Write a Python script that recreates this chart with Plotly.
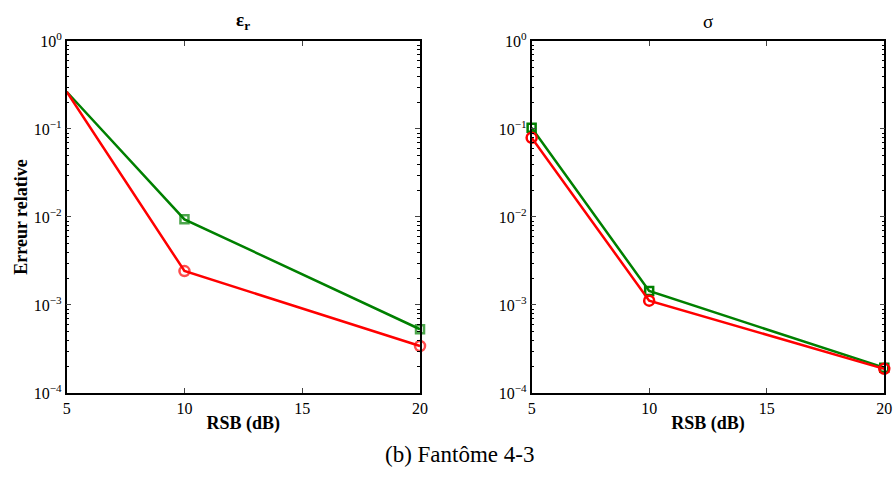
import plotly.graph_objects as go

# Données
rsb = [5, 10, 20]

eps_vert = [0.265, 0.0094, 0.00053]
eps_rouge = [0.265, 0.00243, 0.000342]

sig_vert = [0.1035, 0.00144, 0.000194]
sig_rouge = [0.0796, 0.00112, 0.000188]

ytick_vals = [1e-4, 1e-3, 1e-2, 1e-1, 1]
ytick_text = ["10<sup>−4</sup>", "10<sup>−3</sup>", "10<sup>−2</sup>",
              "10<sup>−1</sup>", "10<sup>0</sup>"]

VERT = "rgb(0,128,0)"
ROUGE = "rgb(255,0,0)"
SERIF = "Liberation Serif"

fig = go.Figure()

# Panneau gauche : epsilon_r (pas de marqueur au premier point)
fig.add_trace(go.Scatter(x=rsb, y=eps_vert, mode="lines+markers",
                         line=dict(color=VERT, width=2.5),
                         marker=dict(symbol="square-open", size=[0, 8, 8],
                                     color=VERT, line=dict(width=2.5)),
                         xaxis="x", yaxis="y", showlegend=False, cliponaxis=False))
fig.add_trace(go.Scatter(x=rsb, y=eps_rouge, mode="lines+markers",
                         line=dict(color=ROUGE, width=2.5),
                         marker=dict(symbol="circle-open", size=[0, 10, 10],
                                     color=ROUGE, line=dict(width=2.5)),
                         xaxis="x", yaxis="y", showlegend=False, cliponaxis=False))

# Panneau droit : sigma
fig.add_trace(go.Scatter(x=rsb, y=sig_vert, mode="lines+markers",
                         line=dict(color=VERT, width=2.5),
                         marker=dict(symbol="square-open", size=8,
                                     color=VERT, line=dict(width=2.5)),
                         xaxis="x2", yaxis="y2", showlegend=False, cliponaxis=False))
fig.add_trace(go.Scatter(x=rsb, y=sig_rouge, mode="lines+markers",
                         line=dict(color=ROUGE, width=2.5),
                         marker=dict(symbol="circle-open", size=10,
                                     color=ROUGE, line=dict(width=2.5)),
                         xaxis="x2", yaxis="y2", showlegend=False, cliponaxis=False))

xcommun = dict(range=[5, 20], tickvals=[5, 10, 15, 20], ticks="inside",
               ticklen=5, mirror="allticks", showline=True, linecolor="black",
               linewidth=1.5, showgrid=False, zeroline=False, automargin=False,
               tickfont=dict(family=SERIF, size=16, color="black"),
               title=dict(text="<b>RSB (dB)</b>", standoff=0,
                          font=dict(family=SERIF, size=18, color="black")))
ycommun = dict(type="log", range=[-4, 0], tickvals=ytick_vals, ticktext=ytick_text,
               ticks="inside", ticklen=5, mirror="allticks", showline=True,
               linecolor="black", linewidth=1.5, showgrid=False, automargin=False,
               tickfont=dict(family=SERIF, size=16, color="black"),
               minor=dict(ticks="inside", ticklen=3, dtick="D1",
                          tickcolor="black", showgrid=False))

fig.update_layout(
    width=895, height=488,
    margin=dict(l=0, r=0, t=0, b=0),
    paper_bgcolor="white", plot_bgcolor="white",
    xaxis=dict(domain=[0.0745, 0.4693], anchor="y", **xcommun),
    yaxis=dict(domain=[0.1947, 0.916], anchor="x",
               title=dict(text="<b>Erreur relative</b>", standoff=2,
                          font=dict(family=SERIF, size=18, color="black")),
               **ycommun),
    xaxis2=dict(domain=[0.594, 0.988], anchor="y2", **xcommun),
    yaxis2=dict(domain=[0.1947, 0.916], anchor="x2", **ycommun),
)

# Titres des panneaux et légende de la figure
fig.add_annotation(text="<b>ε<sub>r</sub></b>", x=0.272, y=0.928,
                   xref="paper", yref="paper", xanchor="center", yanchor="bottom",
                   showarrow=False, font=dict(family=SERIF, size=19, color="black"))
fig.add_annotation(text="σ", x=0.791, y=0.93,
                   xref="paper", yref="paper", xanchor="center", yanchor="bottom",
                   showarrow=False, font=dict(family=SERIF, size=19, color="black"))
fig.add_annotation(text="(b) Fantôme 4-3", x=0.513, y=0.068,
                   xref="paper", yref="paper", xanchor="center", yanchor="middle",
                   showarrow=False, font=dict(family=SERIF, size=23, color="black"))

fig.write_html("out.html", config={"displayModeBar": False},
               post_script="document.body.style.margin='0';")
